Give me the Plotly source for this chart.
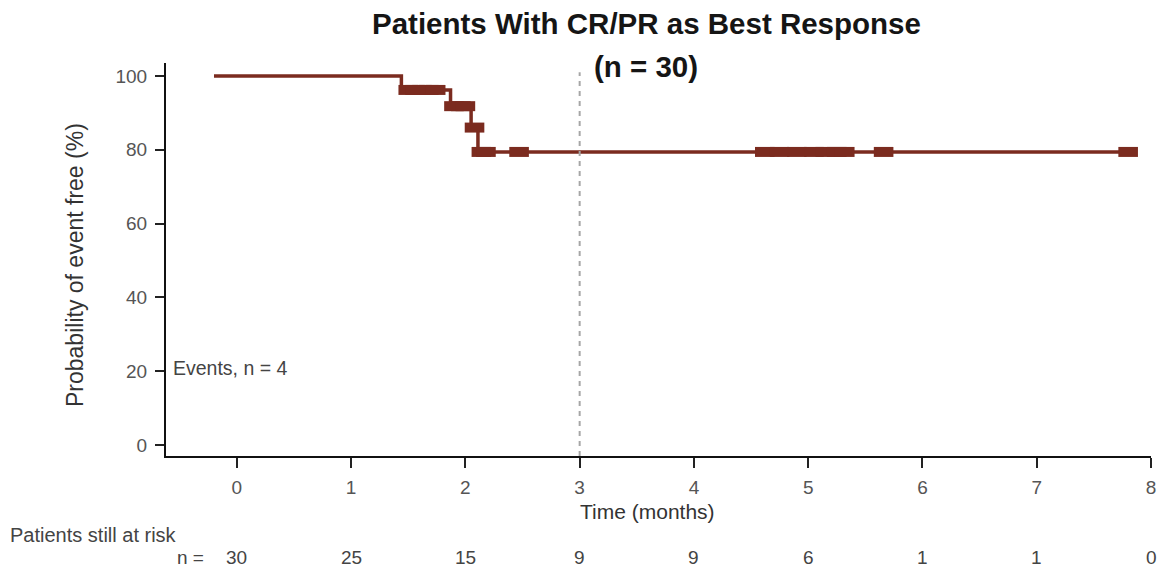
import plotly.graph_objects as go

# Kaplan-Meier step curve (time in months, event-free probability in %)
step_times = [-0.2, 1.44, 1.87, 2.05, 2.11, 7.80]
step_surv = [100, 96.2, 91.8, 86.0, 79.4, 79.4]

# Censored observations (time in months, curve level in %)
censor_times = [1.50, 1.56, 1.62, 1.68, 1.74,
                1.90, 1.96, 2.00,
                2.08,
                2.14, 2.18, 2.47,
                4.62, 4.75, 4.90, 5.05, 5.15, 5.25, 5.32, 5.66, 7.80]
censor_surv = [96.2] * 5 + [91.8] * 3 + [86.0] + [79.4] * 12

# Number at risk table
risk_times = [0, 1, 2, 3, 4, 5, 6, 7, 8]
risk_counts = [30, 25, 15, 9, 9, 6, 1, 1, 0]

x_ticks = [0, 1, 2, 3, 4, 5, 6, 7, 8]
y_ticks = [0, 20, 40, 60, 80, 100]
landmark_month = 3

LINE = "#7B2B1F"
FONT = "Liberation Sans, Arial, sans-serif"
GREY = "#555555"
TEXT = "#444444"

fig = go.Figure()

fig.add_trace(go.Scatter(
    x=step_times, y=step_surv, mode="lines",
    line=dict(color=LINE, width=3.5, shape="hv"),
    hoverinfo="skip", showlegend=False,
))

fig.add_trace(go.Scatter(
    x=censor_times, y=censor_surv, mode="markers",
    marker=dict(symbol="line-ew", size=14, color=LINE,
                line=dict(color=LINE, width=10)),
    hoverinfo="skip", showlegend=False,
))

# landmark reference at 3 months
fig.add_shape(type="line", xref="x", yref="y",
              x0=landmark_month, x1=landmark_month, y0=-3, y1=101,
              line=dict(color="#a6a6a6", width=2, dash="5px,5px"))


def paper_x(px):
    return (px - 166) / (1151 - 166)


def paper_y(py):
    return (456 - py) / (456 - 63)


annotations = [
    dict(text="<b>Patients With CR/PR as Best Response</b>", x=paper_x(646), y=paper_y(24),
         xref="paper", yref="paper", showarrow=False, xanchor="center", yanchor="middle",
         font=dict(size=29.5, color="#151515", family=FONT)),
    dict(text="<b>(n = 30)</b>", x=paper_x(646), y=paper_y(66),
         xref="paper", yref="paper", showarrow=False, xanchor="center", yanchor="middle",
         font=dict(size=29.5, color="#151515", family=FONT)),
    dict(text="Probability of event free (%)", textangle=-90, x=paper_x(75), y=paper_y(265),
         xref="paper", yref="paper", showarrow=False, xanchor="center", yanchor="middle",
         font=dict(size=23, color="#333333", family=FONT)),
    dict(text="Time (months)", x=paper_x(647), y=paper_y(511), xref="paper", yref="paper",
         showarrow=False, xanchor="center", yanchor="middle",
         font=dict(size=21, color="#333333", family=FONT)),
    dict(text="Events, n = 4", x=paper_x(171), y=paper_y(368), xref="paper", yref="paper",
         showarrow=False, xanchor="left", yanchor="middle",
         font=dict(size=19.5, color=TEXT, family=FONT)),
    dict(text="Patients still at risk", x=paper_x(8), y=paper_y(535), xref="paper", yref="paper",
         showarrow=False, xanchor="left", yanchor="middle",
         font=dict(size=20, color=TEXT, family=FONT)),
    dict(text="n =", x=paper_x(206), y=paper_y(557), xref="paper", yref="paper",
         showarrow=False, xanchor="right", yanchor="middle",
         font=dict(size=19, color=TEXT, family=FONT)),
]
for t, n in zip(risk_times, risk_counts):
    annotations.append(dict(text=str(n), x=t, y=paper_y(557), xref="x", yref="paper",
                            showarrow=False, xanchor="center", yanchor="middle",
                            font=dict(size=19, color=TEXT, family=FONT)))

fig.update_layout(
    width=1160, height=570,
    margin=dict(l=166, r=9, t=63, b=114),
    plot_bgcolor="white", paper_bgcolor="white",
    font=dict(family=FONT, color=GREY),
    annotations=annotations,
    xaxis=dict(range=[-0.62, 8.0], tickvals=x_ticks, showgrid=False, zeroline=False,
               automargin=False,
               showline=True, linecolor="#111111", linewidth=2,
               ticks="outside", ticklen=10, tickwidth=2, tickcolor="#222222",
               ticklabelstandoff=3,
               tickfont=dict(size=19, color=GREY, family=FONT)),
    yaxis=dict(range=[-3, 103.5], tickvals=y_ticks, showgrid=False, zeroline=False,
               automargin=False,
               showline=True, linecolor="#111111", linewidth=2,
               ticks="outside", ticklen=9, tickwidth=2, tickcolor="#222222",
               ticklabelstandoff=4,
               tickfont=dict(size=19, color=GREY, family=FONT)),
)

fig.write_html("out.html")
